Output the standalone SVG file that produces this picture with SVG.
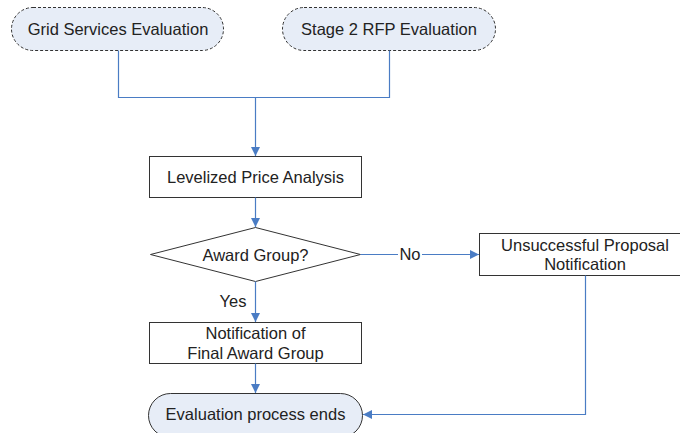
<svg xmlns="http://www.w3.org/2000/svg" width="680" height="433" viewBox="0 0 680 433">
<style>
text{font-family:"Liberation Sans",Arial,sans-serif;font-size:16.5px;fill:#222;text-anchor:middle;dominant-baseline:central}
.pill{fill:#E7EDF7;stroke:#333;stroke-width:1;stroke-dasharray:3,2}
.term{fill:#E7EDF7;stroke:#333;stroke-width:1}
.box{fill:#fff;stroke:#333;stroke-width:1}
.c{fill:none;stroke:#4A7CC4;stroke-width:1.2}
</style>
<defs>
<marker id="ah" markerWidth="10" markerHeight="10" refX="9" refY="5" orient="auto" markerUnits="userSpaceOnUse">
<path d="M0,0.5 L9,5 L0,9.5 Z" fill="#4A7CC4"/>
</marker>
</defs>
<g id="grid">
<rect class="pill" x="11.5" y="7.5" width="212" height="43" rx="21.5"/>
<text x="118" y="29">Grid Services Evaluation</text>
</g>
<g id="stage2">
<rect class="pill" x="282.5" y="7.5" width="213" height="43" rx="21.5"/>
<text x="389" y="29">Stage 2 RFP Evaluation</text>
</g>
<g id="levelized">
<rect class="box" x="149.5" y="156.5" width="212" height="41"/>
<text x="255.5" y="177">Levelized Price Analysis</text>
</g>
<g id="award">
<polygon class="box" points="255.5,227.5 360.5,254.5 255.5,281.5 150.5,254.5"/>
<text x="255.5" y="254.5">Award Group?</text>
</g>
<g id="unsuccessful">
<rect class="box" x="479.5" y="233.5" width="212" height="42"/>
<text x="585" y="245">Unsuccessful Proposal</text>
<text x="585" y="264">Notification</text>
</g>
<g id="final">
<rect class="box" x="149.5" y="322.5" width="212" height="41"/>
<text x="255.5" y="333">Notification of</text>
<text x="255.5" y="353">Final Award Group</text>
</g>
<g id="end">
<rect class="term" x="148.5" y="393.5" width="214" height="44" rx="22"/>
<text x="255.5" y="414">Evaluation process ends</text>
</g>
<g id="connectors">
<polyline class="c" points="118.5,50.5 118.5,97.5 389.5,97.5 389.5,50.5"/>
<line class="c" x1="255.5" y1="97.5" x2="255.5" y2="156" marker-end="url(#ah)"/>
<line class="c" x1="255.5" y1="197.5" x2="255.5" y2="227" marker-end="url(#ah)"/>
<line class="c" x1="360.5" y1="254.5" x2="479" y2="254.5" marker-end="url(#ah)"/>
<line class="c" x1="255.5" y1="281.5" x2="255.5" y2="322" marker-end="url(#ah)"/>
<line class="c" x1="255.5" y1="363.5" x2="255.5" y2="393" marker-end="url(#ah)"/>
<polyline class="c" points="585.5,275.5 585.5,414.5 363,414.5" marker-end="url(#ah)"/>
<rect x="398" y="245" width="24" height="18" fill="#fff"/>
<text x="410" y="254">No</text>
<text x="233" y="301">Yes</text>
</g>
</svg>
